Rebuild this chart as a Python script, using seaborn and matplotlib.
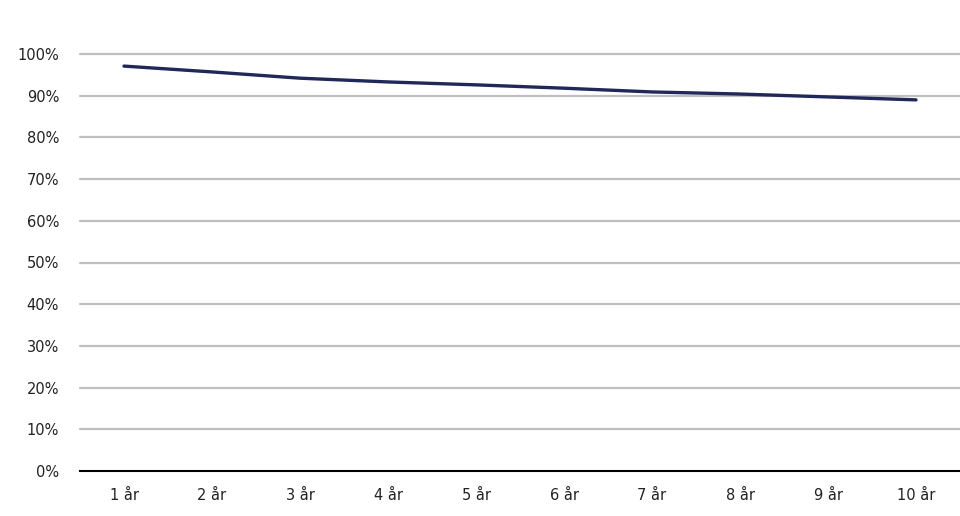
import matplotlib
matplotlib.use("Agg")
import matplotlib.pyplot as plt
import seaborn as sns
import pandas as pd
from matplotlib.ticker import PercentFormatter

categories = ["1 år", "2 år", "3 år", "4 år", "5 år", "6 år", "7 år", "8 år", "9 år", "10 år"]
values = [0.971, 0.957, 0.942, 0.933, 0.926, 0.918, 0.909, 0.904, 0.897, 0.890]
yticks = [0.0, 0.1, 0.2, 0.3, 0.4, 0.5, 0.6, 0.7, 0.8, 0.9, 1.0]

sns.set_theme(style="white")
plt.rcParams['font.family'] = ['DejaVu Sans']

df = pd.DataFrame({"x": range(len(categories)), "y": values})

fig = plt.figure(figsize=(9.6, 5.16), dpi=100)
ax = fig.add_axes([80/960, (516-471)/516, 880/960, (471-54)/516])

ax.set_axisbelow(True)
for t in yticks[1:]:
    ax.axhline(t, color="#bfbfbf", lw=1.6, zorder=0, clip_on=False)

sns.lineplot(data=df, x="x", y="y", ax=ax, color="#1f2858", lw=2.4, zorder=3)

ax.set_xlim(-0.5, len(categories) - 0.5)
ax.set_ylim(0, 1.0)
ax.set_xticks(range(len(categories)))
ax.set_xticklabels(categories, fontsize=10.5, color="#222222")
ax.set_yticks(yticks)
ax.yaxis.set_major_formatter(PercentFormatter(1.0, decimals=0))
ax.tick_params(axis="y", labelsize=10.5, labelcolor="#222222", length=0, pad=15)
ax.tick_params(axis="x", length=0, pad=12)
ax.set_xlabel("")
ax.set_ylabel("")
for s in ["top", "right", "left"]:
    ax.spines[s].set_visible(False)
ax.spines["bottom"].set_color("black")
ax.spines["bottom"].set_linewidth(1.5)
ax.spines["bottom"].set_zorder(4)

fig.savefig("out.png", dpi=100, facecolor="white")
